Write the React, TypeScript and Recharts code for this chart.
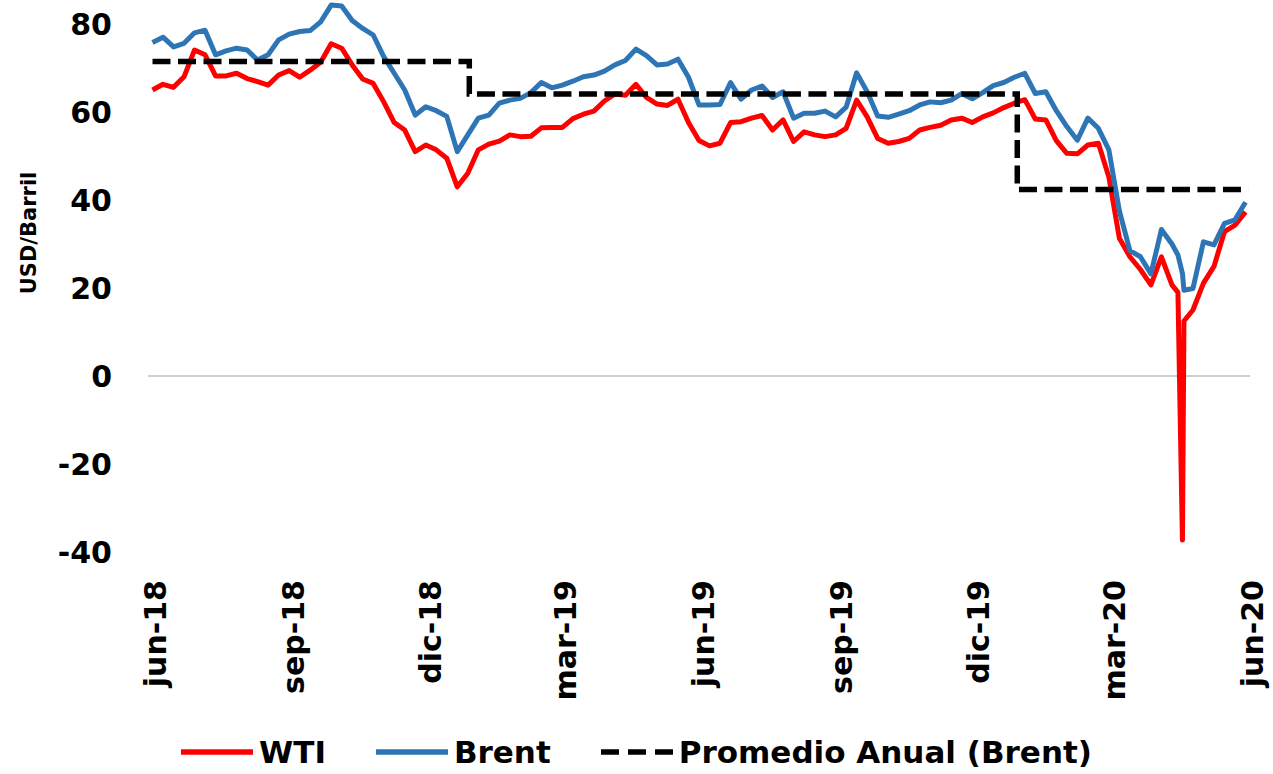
import * as React from "react";
import { LineChart, Line, XAxis, YAxis, ReferenceLine } from "recharts";

// weekly closes (Mondays) plus the two days around the WTI crash
const dates = [
  "2018-06-04", "2018-06-11", "2018-06-18", "2018-06-25", "2018-07-02", "2018-07-09", "2018-07-16",
  "2018-07-23", "2018-07-30", "2018-08-06", "2018-08-13", "2018-08-20", "2018-08-27", "2018-09-03",
  "2018-09-10", "2018-09-17", "2018-09-24", "2018-10-01", "2018-10-08", "2018-10-15", "2018-10-22",
  "2018-10-29", "2018-11-05", "2018-11-12", "2018-11-19", "2018-11-26", "2018-12-03", "2018-12-10",
  "2018-12-17", "2018-12-24", "2018-12-31", "2019-01-07", "2019-01-14", "2019-01-21", "2019-01-28",
  "2019-02-04", "2019-02-11", "2019-02-18", "2019-02-25", "2019-03-04", "2019-03-11", "2019-03-18",
  "2019-03-25", "2019-04-01", "2019-04-08", "2019-04-15", "2019-04-22", "2019-04-29", "2019-05-06",
  "2019-05-13", "2019-05-20", "2019-05-27", "2019-06-03", "2019-06-10", "2019-06-17", "2019-06-24",
  "2019-07-01", "2019-07-08", "2019-07-15", "2019-07-22", "2019-07-29", "2019-08-05", "2019-08-12",
  "2019-08-19", "2019-08-26", "2019-09-02", "2019-09-09", "2019-09-16", "2019-09-23", "2019-09-30",
  "2019-10-07", "2019-10-14", "2019-10-21", "2019-10-28", "2019-11-04", "2019-11-11", "2019-11-18",
  "2019-11-25", "2019-12-02", "2019-12-09", "2019-12-16", "2019-12-23", "2019-12-30", "2020-01-06",
  "2020-01-13", "2020-01-20", "2020-01-27", "2020-02-03", "2020-02-10", "2020-02-17", "2020-02-24",
  "2020-03-02", "2020-03-09", "2020-03-16", "2020-03-23", "2020-03-30", "2020-04-06", "2020-04-13",
  "2020-04-17", "2020-04-20", "2020-04-21", "2020-04-27", "2020-05-04", "2020-05-11", "2020-05-18",
  "2020-05-25", "2020-06-01",
];

const wti = [
  65.0, 66.3, 65.6, 68.0, 74.1, 73.0, 68.2, 68.2, 68.8, 67.6, 66.9, 66.1, 68.4, 69.4,
  67.9, 69.5, 71.3, 75.5, 74.5, 70.7, 67.5, 66.5, 62.3, 57.6, 55.9, 51.0, 52.5, 51.4,
  49.5, 43.0, 46.1, 51.4, 52.7, 53.4, 54.8, 54.4, 54.5, 56.4, 56.5, 56.5, 58.5, 59.5,
  60.2, 62.5, 64.1, 63.8, 66.3, 63.3, 61.8, 61.5, 62.9, 57.6, 53.5, 52.3, 52.9, 57.6,
  57.8, 58.6, 59.2, 55.9, 58.2, 53.3, 55.5, 54.8, 54.4, 54.8, 56.3, 62.7, 58.9, 54.0,
  52.9, 53.3, 54.0, 55.9, 56.5, 57.0, 58.2, 58.6, 57.6, 58.9, 59.8, 61.0, 62.0, 62.8,
  58.4, 58.2, 53.5, 50.6, 50.5, 52.5, 52.9, 45.2, 31.3, 27.1, 24.2, 20.7, 27.1, 20.7,
  19.0, -37.3, 12.5, 15.0, 21.1, 24.9, 32.8, 34.3, 37.3,
];

const brent = [
  75.8, 77.0, 74.8, 75.6, 78.0, 78.6, 73.0, 73.9, 74.5, 74.1, 71.8, 73.0, 76.4, 77.7,
  78.3, 78.5, 80.5, 84.3, 84.1, 80.8, 79.0, 77.5, 72.6, 68.8, 65.0, 59.3, 61.2, 60.3,
  59.0, 51.0, 54.8, 58.6, 59.3, 62.0, 62.7, 63.1, 64.4, 66.7, 65.5, 66.1, 67.0, 68.0,
  68.4, 69.3, 70.7, 71.7, 74.3, 72.8, 70.7, 70.9, 72.0, 67.9, 61.6, 61.6, 61.7, 66.7,
  62.9, 65.0, 65.9, 63.3, 64.6, 58.6, 59.7, 59.7, 60.2, 58.9, 61.1, 68.9, 64.6, 59.1,
  58.8, 59.5, 60.3, 61.6, 62.3, 62.1, 62.7, 64.2, 63.0, 64.4, 66.0, 66.7, 67.9, 68.8,
  64.2, 64.6, 60.3, 56.7, 53.6, 58.6, 56.3, 51.4, 37.5, 28.5, 27.1, 23.2, 33.3, 30.0,
  27.5, 23.3, 19.5, 19.9, 30.5, 29.8, 34.7, 35.5, 39.5,
];

// annual Brent average, held flat through each calendar year
const avgDates = ["2018-06-04", "2019-01-01", "2020-01-01", "2020-06-03"];
const avgBrent = [71.5, 64.1, 42.4, 42.4];

const tickDates = [
  "2018-06-01", "2018-09-01", "2018-12-01", "2019-03-01", "2019-06-01",
  "2019-09-01", "2019-12-01", "2020-03-01", "2020-06-01",
];
const tickLabels = ["jun-18", "sep-18", "dic-18", "mar-19", "jun-19", "sep-19", "dic-19", "mar-20", "jun-20"];
const yTicks = [-40, -20, 0, 20, 40, 60, 80];

const START = Date.UTC(2018, 5, 1);
const toDay = (s: string) => {
  const [y, m, d] = s.split("-").map(Number);
  return (Date.UTC(y, m - 1, d) - START) / 86400000;
};

const rows = dates.map((d, i) => ({ day: toDay(d), wti: wti[i], brent: brent[i] }));
const avgRows = avgDates.map((d, i) => ({ day: toDay(d), avg: avgBrent[i] }));
const tickDays = tickDates.map(toDay);

const FONT = "'DejaVu Sans', sans-serif";
const RED = "#ff0000";
const BLUE = "#2e75b6";

function DateTick(props: any) {
  const { x, y, payload } = props;
  const label = tickLabels[tickDays.indexOf(payload.value)] ?? "";
  const tx = x + 7;
  const ty = y + 28;
  return (
    <text
      x={tx}
      y={ty}
      dy="0.365em"
      transform={`rotate(-90, ${tx}, ${ty})`}
      textAnchor="end"
      fontFamily={FONT}
      fontWeight={700}
      fontSize={30}
      fill="#000"
    >
      {label}
    </text>
  );
}

function YLabel(props: any) {
  const vb = props.viewBox || {};
  const cx = (vb.x ?? 0) + 28.5;
  const cy = (vb.y ?? 0) + (vb.height ?? 0) * 0.42;
  return (
    <text
      x={cx}
      y={cy}
      dy="0.365em"
      transform={`rotate(-90, ${cx}, ${cy})`}
      textAnchor="middle"
      fontFamily={FONT}
      fontWeight={700}
      fontSize={21}
      fill="#000"
    >
      USD/Barril
    </text>
  );
}

function LegendItem({ color, dashed, label }: { color: string; dashed?: boolean; label: string }) {
  return (
    <div style={{ display: "flex", alignItems: "center", marginRight: 50 }}>
      <svg width={72} height={10} style={{ marginRight: 6 }}>
        <line
          x1={0}
          y1={5}
          x2={72}
          y2={5}
          stroke={color}
          strokeWidth={5.5}
          strokeDasharray={dashed ? "18 9" : undefined}
          strokeLinecap={dashed ? "butt" : "round"}
        />
      </svg>
      <span>{label}</span>
    </div>
  );
}

export default function App() {
  return (
    <div style={{ position: "absolute", left: 0, top: 0, width: 1273, height: 774, background: "#fff" }}>
      <LineChart width={1273} height={774} data={rows} margin={{ top: 2, right: 23, bottom: 22, left: 0 }}>
        <XAxis
          dataKey="day"
          type="number"
          domain={[0, 734]}
          ticks={tickDays}
          interval={0}
          tick={<DateTick />}
          tickLine={false}
          axisLine={false}
          tickSize={0}
          tickMargin={0}
          height={200}
          allowDataOverflow
        />
        <YAxis
          domain={[-40, 85]}
          ticks={yTicks}
          interval={0}
          width={148}
          axisLine={false}
          tickLine={false}
          tickSize={0}
          tickMargin={36}
          tick={{ fontSize: 30, fontWeight: 700, fill: "#000", fontFamily: FONT }}
          label={<YLabel />}
          allowDataOverflow
        />
        <ReferenceLine y={0} stroke="#bfbfbf" strokeWidth={1.5} />
        <Line
          dataKey="wti"
          name="WTI"
          type="linear"
          stroke={RED}
          strokeWidth={5}
          strokeLinejoin="round"
          dot={false}
          isAnimationActive={false}
        />
        <Line
          dataKey="brent"
          name="Brent"
          type="linear"
          stroke={BLUE}
          strokeWidth={5}
          strokeLinejoin="round"
          dot={false}
          isAnimationActive={false}
        />
        <Line
          data={avgRows}
          dataKey="avg"
          name="Promedio Anual (Brent)"
          type="stepAfter"
          stroke="#000"
          strokeWidth={5.5}
          strokeDasharray="18 7.5"
          dot={false}
          isAnimationActive={false}
        />
      </LineChart>
      <div
        style={{
          position: "absolute",
          left: 0,
          top: 734,
          width: 1273,
          height: 36,
          lineHeight: "36px",
          display: "flex",
          justifyContent: "center",
          paddingLeft: 50,
          boxSizing: "border-box",
          fontFamily: FONT,
          fontWeight: 700,
          fontSize: 31,
          color: "#000",
        }}
      >
        <LegendItem color={RED} label="WTI" />
        <LegendItem color={BLUE} label="Brent" />
        <LegendItem color="#000" dashed label="Promedio Anual (Brent)" />
      </div>
    </div>
  );
}
